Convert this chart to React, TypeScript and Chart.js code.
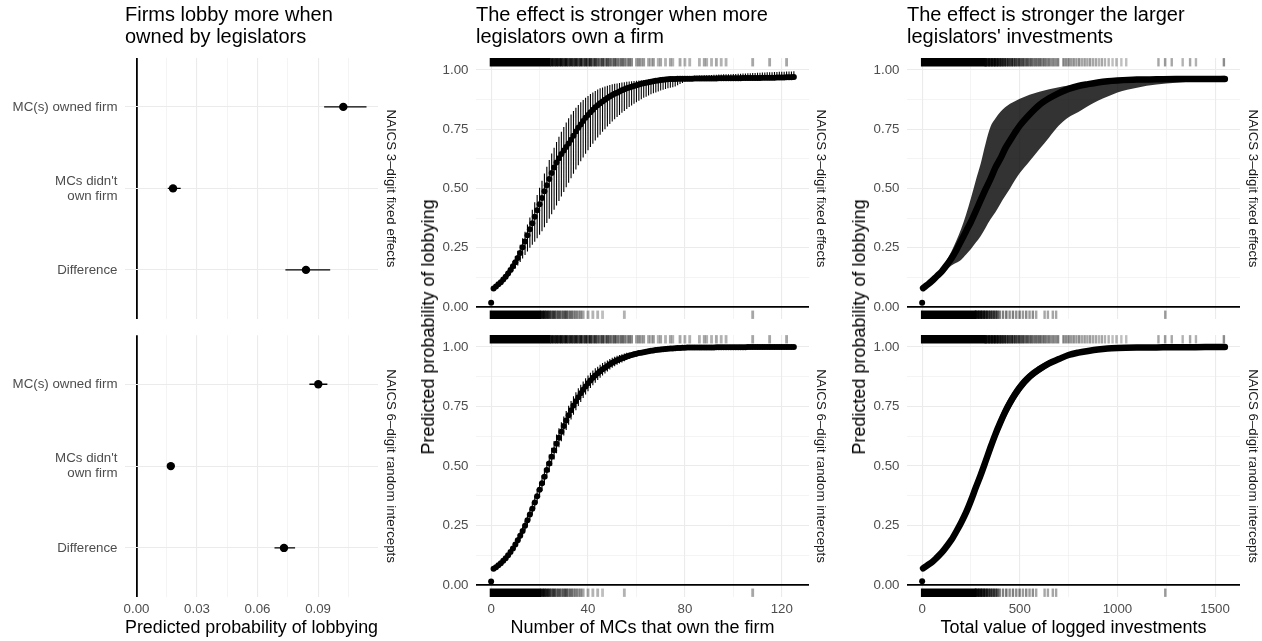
import React, { useEffect, useRef } from 'react';
import { Chart, registerables } from 'chart.js';

Chart.register(...registerables);

const FONT = "'Liberation Sans', Arial, Helvetica, sans-serif";
const TICK_COLOR = '#4D4D4D';
const GRID = '#EBEBEB';

// ---------- Panel 1: point estimates ----------
const estimateLabels: string[][] = [['MC(s) owned firm'], ["MCs didn't", 'own firm'], ['Difference']];
const estimatePos = [1, 2, 3];
const feEstimate = [0.1025, 0.0181, 0.084];
const feLower = [0.093, 0.0155, 0.0738];
const feUpper = [0.114, 0.0219, 0.096];
const reEstimate = [0.0901, 0.017, 0.0731];
const reLower = [0.0857, 0.0165, 0.0684];
const reUpper = [0.0946, 0.0175, 0.0786];

// ---------- Panel 2: number of MCs ----------
const mcCount = [1,2,3,4,5,6,7,8,9,10,11,12,13,14,15,16,17,18,19,20,21,22,23,24,25,26,27,28,29,30,31,32,33,34,35,36,37,38,39,40,41,42,43,44,45,46,47,48,49,50,51,52,53,54,55,56,57,58,59,60,61,62,63,64,65,66,67,68,69,70,71,72,73,74,75,76,77,78,79,80,81,82,83,84,85,86,87,88,89,90,91,92,93,94,95,96,97,98,99,100,101,102,103,104,105,106,107,108,109,110,111,112,113,114,115,116,117,118,119,120,121,122,123,124,125];
const mcFeProb = [
  .079,.087,.096,.105,.116,.128,.142,.157,.172,.189,
  .207,.228,.252,.277,.303,.328,.354,.381,.408,.434,
  .460,.488,.514,.540,.565,.588,.610,.628,.645,.660,
  .675,.690,.705,.722,.740,.756,.770,.784,.798,.810,
  .821,.832,.842,.851,.859,.867,.874,.881,.888,.894,
  .899,.904,.909,.914,.918,.922,.926,.929,.932,.935,
  .938,.941,.944,.946,.948,.950,.952,.954,.955,.957,
  .958,.959,.960,.961,.962,.962,.963,.963,.963,.963,
  .963,.963,.963,.964,.964,.964,.964,.964,.964,.964,
  .964,.964,.964,.965,.965,.965,.965,.965,.965,.965,
  .965,.965,.965,.966,.966,.966,.966,.966,.966,.966,
  .966,.967,.967,.967,.967,.967,.967,.968,.968,.968,
  .968,.969,.969,.969,.970];
const mcFeLow = [
  .074,.081,.089,.097,.106,.116,.127,.139,.151,.163,
  .176,.190,.205,.220,.235,.250,.263,.276,.290,.305,
  .320,.337,.355,.373,.392,.410,.428,.447,.466,.485,
  .505,.524,.543,.562,.580,.598,.615,.631,.646,.661,
  .675,.689,.702,.715,.727,.739,.750,.761,.772,.782,
  .792,.801,.810,.819,.827,.835,.843,.850,.857,.864,
  .870,.876,.882,.887,.892,.897,.901,.905,.909,.913,
  .916,.919,.922,.925,.927,.930,.935,.940,.945,.950,
  .952,.952,.952,.953,.953,.953,.953,.953,.953,.953,
  .953,.953,.953,.954,.954,.954,.954,.954,.954,.954,
  .954,.954,.954,.955,.955,.955,.955,.955,.955,.955,
  .955,.956,.956,.956,.956,.956,.956,.957,.957,.957,
  .957,.958,.958,.958,.959];
const mcFeHigh = [
  .084,.093,.103,.114,.127,.141,.157,.175,.194,.215,
  .238,.263,.290,.318,.348,.378,.410,.442,.473,.503,
  .533,.563,.592,.620,.647,.672,.696,.718,.739,.759,
  .778,.796,.812,.827,.840,.852,.863,.873,.882,.890,
  .898,.905,.911,.917,.922,.926,.930,.933,.936,.939,
  .941,.943,.945,.947,.948,.950,.951,.952,.953,.954,
  .955,.956,.957,.958,.959,.960,.961,.962,.963,.964,
  .965,.966,.967,.968,.969,.970,.971,.972,.972,.973,
  .973,.974,.974,.975,.975,.976,.976,.977,.977,.978,
  .978,.979,.979,.980,.980,.981,.981,.982,.982,.983,
  .983,.984,.984,.985,.985,.986,.986,.987,.987,.988,
  .988,.989,.989,.990,.990,.990,.991,.991,.992,.992,
  .992,.993,.993,.993,.994];
const mcReProb = [
  .069,.075,.083,.092,.102,.113,.125,.139,.154,.170,
  .188,.207,.227,.249,.272,.296,.321,.347,.373,.400,
  .428,.455,.483,.511,.539,.566,.593,.619,.644,.668,
  .691,.713,.734,.754,.772,.789,.805,.820,.834,.847,
  .859,.870,.880,.889,.898,.906,.913,.920,.927,.934,
  .939,.944,.948,.952,.956,.960,.963,.966,.969,.971,
  .974,.976,.978,.980,.982,.984,.985,.987,.988,.989,
  .990,.991,.992,.993,.993,.994,.995,.995,.996,.996,
  .997,.997,.997,.997,.997,.998,.998,.998,.998,.998,
  .998,.998,.999,.999,.999,.999,.999,.999,.999,.999,
  .999,.999,.999,.999,.999,1,1,1,1,1,
  1,1,1,1,1,1,1,1,1,1,
  1,1,1,1,1];
const mcReLow = [
  .066,.071,.079,.087,.096,.106,.117,.130,.144,.158,
  .174,.191,.209,.229,.250,.272,.295,.319,.343,.368,
  .395,.421,.448,.474,.501,.527,.554,.579,.604,.628,
  .651,.673,.695,.715,.734,.752,.769,.785,.800,.814,
  .827,.839,.850,.861,.871,.880,.888,.897,.905,.913,
  .919,.925,.930,.935,.940,.945,.949,.953,.957,.960,
  .964,.966,.969,.972,.974,.977,.979,.981,.983,.984,
  .986,.987,.988,.990,.990,.991,.992,.992,.994,.994,
  .995,.995,.995,.995,.995,.996,.996,.996,.996,.996,
  .997,.997,.998,.998,.998,.998,.998,.998,.998,.998,
  .998,.998,.998,.998,.998,.999,.999,.999,.999,.999,
  .999,.999,.999,.999,.999,.999,.999,.999,.999,.999,
  .999,.999,.999,.999,.999];
const mcReHigh = [
  .072,.079,.087,.097,.108,.120,.133,.148,.164,.182,
  .202,.223,.245,.269,.294,.320,.347,.375,.403,.432,
  .461,.489,.518,.548,.577,.605,.632,.659,.684,.708,
  .731,.753,.773,.793,.810,.826,.841,.855,.868,.880,
  .891,.901,.910,.917,.925,.932,.938,.943,.949,.955,
  .959,.963,.966,.969,.972,.975,.977,.979,.981,.982,
  .984,.986,.987,.988,.990,.991,.991,.993,.993,.994,
  .994,.995,.996,.996,.996,.997,.998,.998,.998,.998,
  .999,.999,.999,.999,.999,1,1,1,1,1,
  1,1,1,1,1,1,1,1,1,1,
  1,1,1,1,1,1,1,1,1,1,
  1,1,1,1,1,1,1,1,1,1,
  1,1,1,1,1];
const mcFeNone = 0.019;
const mcReNone = 0.015;

// rugs: [value, shade]
const mcRugTopSolid = [0, 24];
const mcRugTop = [[25,.95],[26,.9],[27,.95],[28,.9],[29,.95],[30,.85],[31,.95],[32,.8],[33,.9],[34,.8],[35,.9],[36,.75],[37,.9],[38,.7],[39,.85],[40,.7],[41,.85],[42,.65],[43,.8],[44,.65],[45,.6],[46,.75],[47,.55],[48,.7],[49,.6],[50,.5],[51,.65],[52,.55],[53,.45],[54,.6],[55,.5],[56,.4],[57,.55],[58,.45],[60,.35],[61,.45],[62,.35],[63,.4],[65,.35],[66,.3],[67,.4],[69,.3],[70,.35],[72,.3],[74,.35],[75,.3],[78,.35],[80,.3],[82,.3],[86,.3],[88,.35],[89,.3],[91,.3],[93,.35],[95,.3],[97,.3],[108,.35],[115,.35],[122,.35]];
const mcRugBottomSolid = [0, 20];
const mcRugBottom = [[21,.95],[22,.95],[23,.9],[24,.85],[25,.7],[26,.8],[27,.6],[28,.7],[29,.55],[30,.65],[31,.7],[32,.5],[33,.6],[34,.45],[35,.5],[36,.4],[37,.45],[38,.35],[40,.35],[42,.3],[44,.3],[46,.25],[55,.3],[108,.35]];

// ---------- Panel 3: logged investments ----------
const invValue = [5,25,50,75,100,125,150,175,200,225,250,275,300,325,350,375,400,425,450,475,500,550,600,650,700,750,800,850,900,950,1000,1100,1200,1300,1400,1500,1550];
const invFeProb = [.080,.093,.110,.130,.150,.177,.205,.240,.280,.320,.360,.405,.452,.497,.540,.588,.625,.668,.702,.735,.765,.812,.852,.880,.902,.920,.932,.940,.947,.952,.955,.959,.960,.961,.961,.962,.962];
const invFeHigh = [.084,.098,.117,.140,.165,.198,.235,.280,.330,.390,.460,.535,.605,.690,.760,.795,.822,.842,.857,.868,.878,.895,.908,.918,.927,.934,.940,.944,.948,.952,.956,.960,.964,.967,.970,.973,.975];
const invFeLow = [.076,.088,.103,.120,.137,.155,.175,.187,.200,.222,.245,.272,.300,.335,.370,.400,.435,.468,.500,.535,.565,.615,.665,.715,.765,.800,.822,.848,.870,.888,.905,.925,.938,.946,.951,.955,.956];
const invReProb = [.070,.082,.096,.115,.136,.162,.190,.225,.263,.305,.355,.410,.463,.520,.578,.633,.682,.727,.766,.800,.830,.875,.906,.931,.949,.966,.976,.983,.989,.993,.995,.997,.998,.999,.999,1,1];
const invReHigh = [.072,.085,.100,.120,.142,.170,.200,.237,.278,.323,.376,.434,.490,.549,.608,.663,.712,.756,.793,.825,.853,.894,.922,.944,.959,.974,.982,.988,.993,.996,.997,.998,.999,1,1,1,1];
const invReLow = [.068,.079,.092,.110,.130,.154,.180,.213,.248,.287,.334,.386,.436,.491,.548,.603,.652,.698,.739,.775,.807,.856,.890,.918,.939,.958,.970,.978,.985,.990,.993,.996,.997,.998,.998,.999,.999];
const invFeNone = 0.018;
const invReNone = 0.016;

const invRugTopSolid = [0, 320];
const invRugTop = [[326,.95],[334,.9],[342,.95],[350,.9],[358,.95],[366,.9],[374,.95],[382,.85],[390,.9],[398,.8],[406,.85],[414,.8],[423,.85],[432,.75],[441,.8],[450,.7],[459,.8],[468,.7],[477,.75],[486,.65],[496,.75],[506,.65],[516,.7],[526,.6],[537,.7],[548,.6],[559,.65],[570,.55],[581,.6],[592,.55],[603,.6],[614,.5],[625,.55],[636,.5],[648,.55],[660,.45],[672,.5],[684,.45],[696,.5],[724,.5],[737,.45],[750,.5],[763,.4],[776,.45],[790,.4],[804,.45],[818,.35],[832,.4],[846,.35],[860,.4],[875,.35],[890,.35],[905,.3],[920,.35],[936,.3],[955,.3],[975,.25],[995,.3],[1020,.25],[1045,.25],[1210,.35],[1244,.4],[1278,.35],[1334,.3],[1372,.35],[1402,.3],[1545,.45]];
const invRugBottomSolid = [0, 270];
const invRugBottom = [[276,.95],[284,.95],[292,.9],[300,.95],[308,.85],[316,.9],[324,.8],[332,.85],[341,.75],[350,.8],[359,.7],[368,.75],[377,.65],[386,.7],[397,.55],[414,.5],[431,.55],[448,.45],[465,.5],[482,.45],[499,.5],[516,.4],[533,.45],[550,.4],[567,.45],[584,.35],[627,.35],[644,.35],[669,.35],[686,.35],[1245,.4]];

// ---------- ticks ----------
const probTicks = [0, 0.03, 0.06, 0.09];
const probMinor = [0.015, 0.045, 0.075, 0.105];
const mcTicks = [0, 40, 80, 120];
const mcMinor = [20, 60, 100];
const invTicks = [0, 500, 1000, 1500];
const invMinor = [250, 750, 1250];
const pTicks = [0, 0.25, 0.5, 0.75, 1];
const pMinor = [0.125, 0.375, 0.625, 0.875];

const RUG_TOP_Y = 1.032;
const RUG_BOTTOM_Y = -0.032;

function linearAxis(o: any) {
  const all = [...o.majors, ...o.minors].sort((a: number, b: number) => a - b);
  const isLeft = o.position === 'left';
  return {
    type: 'linear',
    position: o.position,
    min: o.min,
    max: o.max,
    reverse: !!o.reverse,
    offset: false,
    afterBuildTicks: (s: any) => { s.ticks = all.map((v: number) => ({ value: v })); },
    afterFit: (s: any) => {
      if (isLeft) s.width = o.size; else s.height = o.size;
      s.paddingTop = 0; s.paddingBottom = 0; s.paddingLeft = 0; s.paddingRight = 0;
    },
    ticks: {
      display: o.showLabels,
      autoSkip: false,
      maxRotation: 0,
      minRotation: 0,
      padding: isLeft ? 7.5 : 5,
      color: TICK_COLOR,
      font: { family: FONT, size: 13.3, lineHeight: 1.13 },
      callback: (v: number) => (o.majors.includes(v) ? o.label(v) : ''),
    },
    grid: {
      drawTicks: false,
      offset: false,
      color: (c: any) => (o.zeroLine && c.tick && c.tick.value === 0 ? '#000' : GRID),
      lineWidth: (c: any) => {
        const v = c.tick ? c.tick.value : NaN;
        if (o.zeroLine && v === 0) return 1.8;
        return o.majors.includes(v) ? 1.1 : 0.55;
      },
    },
    border: { display: false },
    title: o.title
      ? { display: true, text: o.title, color: '#000', font: { family: FONT, size: 18, lineHeight: 1.2 }, padding: { top: 0, bottom: 2 } }
      : { display: false },
  };
}

function stripAxis(text: string, width: number) {
  return {
    type: 'linear',
    position: 'right',
    display: true,
    min: 0,
    max: 1,
    afterFit: (s: any) => {
      s.width = width;
      s.paddingTop = 0; s.paddingBottom = 0; s.paddingLeft = 0; s.paddingRight = 0;
    },
    ticks: { display: false },
    grid: { display: false, drawTicks: false },
    border: { display: false },
    title: { display: true, text, color: '#1A1A1A', font: { family: FONT, size: 13.3, lineHeight: 1.2 }, padding: { top: 1, bottom: 0 } },
  };
}

function baseOptions(scales: any, title?: string[]) {
  return {
    responsive: false,
    animation: false,
    devicePixelRatio: 1,
    events: [],
    layout: { padding: 0 },
    plugins: {
      legend: { display: false },
      tooltip: { enabled: false },
      title: title
        ? {
            display: true,
            text: title,
            align: 'start',
            fullSize: false,
            color: '#000',
            font: { family: FONT, size: 20, weight: 'normal', lineHeight: 1.08 },
            padding: { top: 5, bottom: 9.8 },
          }
        : { display: false },
    },
    scales,
  };
}

function rugDataset(topSolid: number[], top: number[][], bottomSolid: number[], bottom: number[][], hw: number) {
  const segs = [
    { y: RUG_TOP_Y, x: [topSolid[0] - hw, topSolid[1] + hw], a: 1 },
    ...top.map(([v, a]) => ({ y: RUG_TOP_Y, x: [v - hw, v + hw], a })),
    { y: RUG_BOTTOM_Y, x: [bottomSolid[0] - hw, bottomSolid[1] + hw], a: 1 },
    ...bottom.map(([v, a]) => ({ y: RUG_BOTTOM_Y, x: [v - hw, v + hw], a })),
  ];
  return {
    type: 'bar',
    indexAxis: 'y',
    data: segs.map((s) => ({ x: s.x, y: s.y })),
    backgroundColor: segs.map((s) => `rgba(0,0,0,${s.a})`),
    barThickness: 7.7,
    borderWidth: 0,
    borderSkipped: false,
  };
}

const probLabel = (v: number) => v.toFixed(2);
const intLabel = (v: number) => String(v);

function coefConfig(est: number[], lo: number[], hi: number[], isTop: boolean) {
  const points = est.map((v, i) => ({ x: v, y: estimatePos[i] }));
  const bars = lo.flatMap((l, i) => [
    { x: l, y: estimatePos[i] },
    { x: hi[i], y: estimatePos[i] },
    { x: hi[i], y: null },
  ]);
  return {
    type: 'scatter',
    data: {
      datasets: [
        { type: 'scatter', data: points, pointRadius: 4.2, pointBackgroundColor: '#000', pointBorderWidth: 0, showLine: false },
        { type: 'line', data: bars, borderColor: '#000', borderWidth: 1.4, pointRadius: 0, spanGaps: false, fill: false, tension: 0 },
      ],
    },
    options: baseOptions(
      {
        x: linearAxis({ position: 'bottom', min: -0.0057, max: 0.1197, majors: probTicks, minors: probMinor, label: probLabel, showLabels: !isTop, size: isTop ? 0 : 44, zeroLine: true, title: isTop ? undefined : 'Predicted probability of lobbying' }),
        y: linearAxis({ position: 'left', min: 0.4, max: 3.6, reverse: true, majors: estimatePos, minors: [], label: (v: number) => estimateLabels[estimatePos.indexOf(v)], showLabels: true, size: 125, zeroLine: false }),
        strip: stripAxis(isTop ? 'NAICS 3\u2013digit fixed effects' : 'NAICS 6\u2013digit random intercepts', 22),
      },
      isTop ? ['Firms lobby more when', 'owned by legislators'] : undefined
    ),
  };
}

function mcConfig(prob: number[], low: number[], high: number[], none: number, isTop: boolean) {
  return {
    type: 'scatter',
    data: {
      datasets: [
        { type: 'scatter', data: mcCount.map((x, i) => ({ x, y: prob[i] })), pointRadius: 3, pointBackgroundColor: '#000', pointBorderWidth: 0, showLine: false },
        { type: 'scatter', data: [{ x: 0, y: none }], pointRadius: 3, pointBackgroundColor: '#000', pointBorderWidth: 0, showLine: false },
        {
          type: 'line',
          data: mcCount.flatMap((x, i) => [{ x, y: low[i] }, { x, y: high[i] }, { x, y: null }]),
          borderColor: '#000', borderWidth: 1.1, pointRadius: 0, spanGaps: false, fill: false, tension: 0,
        },
        rugDataset(mcRugTopSolid, mcRugTop, mcRugBottomSolid, mcRugBottom, 0.45),
      ],
    },
    options: baseOptions(
      {
        x: linearAxis({ position: 'bottom', min: -6.25, max: 131.25, majors: mcTicks, minors: mcMinor, label: intLabel, showLabels: !isTop, size: isTop ? 0 : 44, zeroLine: false, title: isTop ? undefined : 'Number of MCs that own the firm' }),
        y: linearAxis({ position: 'left', min: -0.05, max: 1.05, majors: pTicks, minors: pMinor, label: probLabel, showLabels: true, size: 76, zeroLine: true }),
        strip: stripAxis(isTop ? 'NAICS 3\u2013digit fixed effects' : 'NAICS 6\u2013digit random intercepts', 21),
      },
      isTop ? ['The effect is stronger when more', 'legislators own a firm'] : undefined
    ),
  };
}

function invConfig(prob: number[], low: number[], high: number[], none: number, isTop: boolean) {
  return {
    type: 'scatter',
    data: {
      datasets: [
        {
          type: 'line', data: invValue.map((x, i) => ({ x, y: prob[i] })), borderColor: '#000', borderWidth: 6.5, pointRadius: 0,
          borderCapStyle: 'round', borderJoinStyle: 'round', cubicInterpolationMode: 'monotone', fill: false, showLine: true,
        },
        { type: 'scatter', data: [{ x: 0, y: none }], pointRadius: 3, pointBackgroundColor: '#000', pointBorderWidth: 0, showLine: false },
        {
          type: 'line', data: invValue.map((x, i) => ({ x, y: high[i] })), borderColor: 'rgba(0,0,0,0)', borderWidth: 0, pointRadius: 0,
          fill: '+1', backgroundColor: 'rgba(0,0,0,0.8)', cubicInterpolationMode: 'monotone', showLine: true,
        },
        {
          type: 'line', data: invValue.map((x, i) => ({ x, y: low[i] })), borderColor: 'rgba(0,0,0,0)', borderWidth: 0, pointRadius: 0,
          fill: false, cubicInterpolationMode: 'monotone', showLine: true,
        },
        rugDataset(invRugTopSolid, invRugTop, invRugBottomSolid, invRugBottom, 4.5),
      ],
    },
    options: baseOptions(
      {
        x: linearAxis({ position: 'bottom', min: -77.5, max: 1627.5, majors: invTicks, minors: invMinor, label: intLabel, showLabels: !isTop, size: isTop ? 0 : 44, zeroLine: false, title: isTop ? undefined : 'Total value of logged investments' }),
        y: linearAxis({ position: 'left', min: -0.05, max: 1.05, majors: pTicks, minors: pMinor, label: probLabel, showLabels: true, size: 67, zeroLine: true }),
        strip: stripAxis(isTop ? 'NAICS 3\u2013digit fixed effects' : 'NAICS 6\u2013digit random intercepts', 22),
      },
      isTop ? ['The effect is stronger the larger', "legislators' investments"] : undefined
    ),
  };
}

function PlotCanvas({ left, top, width, height, make }: any) {
  const ref = useRef<HTMLCanvasElement | null>(null);
  useEffect(() => {
    if (!ref.current) return;
    const chart = new Chart(ref.current, make() as any);
    return () => chart.destroy();
  }, []);
  return (
    <canvas
      ref={ref}
      width={width}
      height={height}
      style={{ position: 'absolute', left, top, width, height }}
    />
  );
}

function SharedYTitle({ cx, cy, text }: any) {
  return (
    <div
      style={{
        position: 'absolute',
        left: cx,
        top: cy,
        transform: 'translate(-50%, -50%) rotate(-90deg)',
        whiteSpace: 'nowrap',
        fontFamily: FONT,
        fontSize: 18,
        lineHeight: '18px',
        color: '#000',
      }}
    >
      {text}
    </div>
  );
}

export default function App() {
  return (
    <div style={{ position: 'absolute', left: 0, top: 0, width: 1262, height: 641, background: '#fff', overflow: 'hidden' }}>
      <PlotCanvas left={0} top={0} width={400} height={323} make={() => coefConfig(feEstimate, feLower, feUpper, true)} />
      <PlotCanvas left={0} top={331} width={400} height={310} make={() => coefConfig(reEstimate, reLower, reUpper, false)} />
      <PlotCanvas left={400} top={0} width={430} height={323} make={() => mcConfig(mcFeProb, mcFeLow, mcFeHigh, mcFeNone, true)} />
      <PlotCanvas left={400} top={331} width={430} height={310} make={() => mcConfig(mcReProb, mcReLow, mcReHigh, mcReNone, false)} />
      <PlotCanvas left={840} top={0} width={422} height={323} make={() => invConfig(invFeProb, invFeLow, invFeHigh, invFeNone, true)} />
      <PlotCanvas left={840} top={331} width={422} height={310} make={() => invConfig(invReProb, invReLow, invReHigh, invReNone, false)} />
      <SharedYTitle cx={427.5} cy={327} text="Predicted probability of lobbying" />
      <SharedYTitle cx={859.3} cy={327} text="Predicted probability of lobbying" />
    </div>
  );
}
